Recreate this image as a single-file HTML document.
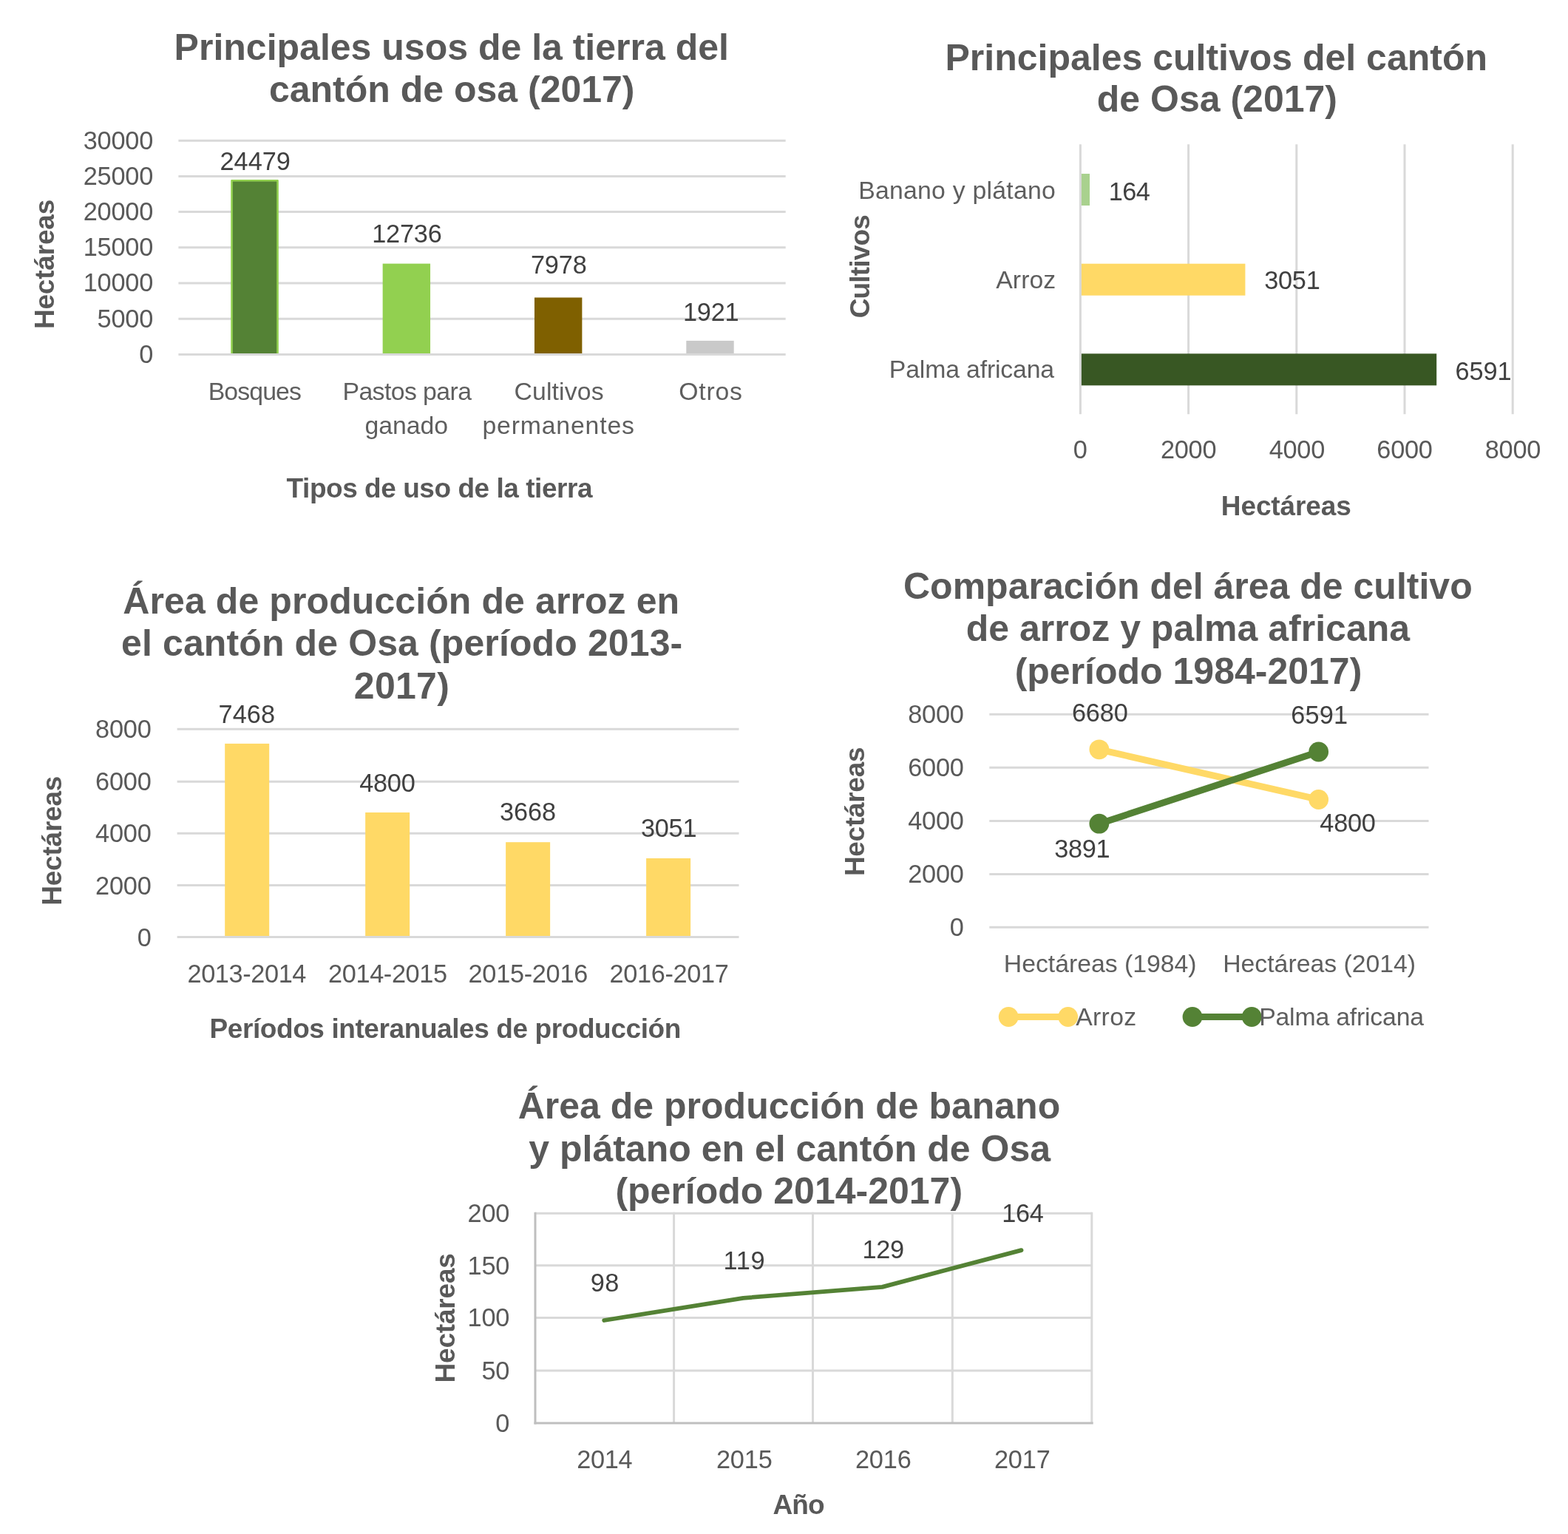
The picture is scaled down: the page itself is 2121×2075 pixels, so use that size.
<!DOCTYPE html>
<html lang="es">
<head>
<meta charset="utf-8">
<title>Usos de la tierra y cultivos del cantón de Osa</title>
<style>
html,body{margin:0;padding:0;background:#fff;}
body{width:2121px;height:2075px;overflow:hidden;}
svg{display:block;}
text{font-family:"Liberation Sans",sans-serif;fill:#595959;white-space:pre;}
.d{font-size:34.3px;}
.l{font-size:33.8px;fill:#5e5e5e;}
.a{font-size:37.0px;font-weight:bold;}
.t{font-size:50.0px;font-weight:bold;}
.k{fill:#404040;}
</style>
</head>
<body>
<svg width="2121" height="2075" viewBox="0 0 2121 2075" role="img" aria-label="Gráficos de usos de la tierra y cultivos del cantón de Osa">
<rect width="2121" height="2075" fill="#ffffff"/>
<g>
<text class="t" x="700.75" y="1513.40">Área de producción de banano</text>
<text class="t" x="715.27" y="1570.60">y plátano en el cantón de Osa</text>
<text class="t" x="832.42" y="1628.00">(período 2014-2017)</text>
</g>
<g>
<line x1="241.40" y1="190.20" x2="1062.70" y2="190.20" stroke="#D9D9D9" stroke-width="3" stroke-linecap="butt"/>
<line x1="241.40" y1="238.40" x2="1062.70" y2="238.40" stroke="#D9D9D9" stroke-width="3" stroke-linecap="butt"/>
<line x1="241.40" y1="286.60" x2="1062.70" y2="286.60" stroke="#D9D9D9" stroke-width="3" stroke-linecap="butt"/>
<line x1="241.40" y1="334.80" x2="1062.70" y2="334.80" stroke="#D9D9D9" stroke-width="3" stroke-linecap="butt"/>
<line x1="241.40" y1="383.00" x2="1062.70" y2="383.00" stroke="#D9D9D9" stroke-width="3" stroke-linecap="butt"/>
<line x1="241.40" y1="431.20" x2="1062.70" y2="431.20" stroke="#D9D9D9" stroke-width="3" stroke-linecap="butt"/>
<rect x="313.51" y="244.32" width="62.00" height="235.08" fill="#548235"/>
<path d="M313.51 479.40V244.32H375.51V479.40" fill="none" stroke="#92D050" stroke-width="2.6" stroke-linejoin="round"/>
<rect x="517.64" y="356.62" width="64.40" height="122.78" fill="#92D050"/>
<rect x="722.96" y="402.49" width="64.40" height="76.91" fill="#7F6000"/>
<rect x="928.29" y="460.88" width="64.40" height="18.52" fill="#C9C9C9"/>
<line x1="241.40" y1="479.40" x2="1062.70" y2="479.40" stroke="#D9D9D9" stroke-width="3" stroke-linecap="butt"/>
<line x1="1607.60" y1="195.30" x2="1607.60" y2="560.30" stroke="#D9D9D9" stroke-width="3" stroke-linecap="butt"/>
<line x1="1753.80" y1="195.30" x2="1753.80" y2="560.30" stroke="#D9D9D9" stroke-width="3" stroke-linecap="butt"/>
<line x1="1900.00" y1="195.30" x2="1900.00" y2="560.30" stroke="#D9D9D9" stroke-width="3" stroke-linecap="butt"/>
<line x1="2046.20" y1="195.30" x2="2046.20" y2="560.30" stroke="#D9D9D9" stroke-width="3" stroke-linecap="butt"/>
<rect x="1461.40" y="235.03" width="12.59" height="43.00" fill="#A9D18E"/>
<rect x="1461.40" y="356.70" width="223.03" height="43.00" fill="#FFD966"/>
<rect x="1461.40" y="478.37" width="481.80" height="43.00" fill="#385723"/>
<line x1="1461.40" y1="195.30" x2="1461.40" y2="560.30" stroke="#D9D9D9" stroke-width="3" stroke-linecap="butt"/>
<line x1="239.60" y1="986.20" x2="999.50" y2="986.20" stroke="#D9D9D9" stroke-width="3" stroke-linecap="butt"/>
<line x1="239.60" y1="1057.20" x2="999.50" y2="1057.20" stroke="#D9D9D9" stroke-width="3" stroke-linecap="butt"/>
<line x1="239.60" y1="1127.30" x2="999.50" y2="1127.30" stroke="#D9D9D9" stroke-width="3" stroke-linecap="butt"/>
<line x1="239.60" y1="1197.40" x2="999.50" y2="1197.40" stroke="#D9D9D9" stroke-width="3" stroke-linecap="butt"/>
<rect x="304.19" y="1005.90" width="60.00" height="261.50" fill="#FFD966"/>
<rect x="494.16" y="1099.00" width="60.00" height="168.40" fill="#FFD966"/>
<rect x="684.14" y="1139.20" width="60.00" height="128.20" fill="#FFD966"/>
<rect x="874.11" y="1161.00" width="60.00" height="106.40" fill="#FFD966"/>
<line x1="239.60" y1="1267.40" x2="999.50" y2="1267.40" stroke="#D9D9D9" stroke-width="3" stroke-linecap="butt"/>
<line x1="1338.30" y1="966.30" x2="1932.50" y2="966.30" stroke="#D9D9D9" stroke-width="3" stroke-linecap="butt"/>
<line x1="1338.30" y1="1038.20" x2="1932.50" y2="1038.20" stroke="#D9D9D9" stroke-width="3" stroke-linecap="butt"/>
<line x1="1338.30" y1="1110.60" x2="1932.50" y2="1110.60" stroke="#D9D9D9" stroke-width="3" stroke-linecap="butt"/>
<line x1="1338.30" y1="1182.50" x2="1932.50" y2="1182.50" stroke="#D9D9D9" stroke-width="3" stroke-linecap="butt"/>
<line x1="1338.30" y1="1254.30" x2="1932.50" y2="1254.30" stroke="#D9D9D9" stroke-width="3" stroke-linecap="butt"/>
<line x1="1486.85" y1="1013.82" x2="1783.65" y2="1081.50" stroke="#FFD966" stroke-width="9" stroke-linecap="round"/>
<circle cx="1486.85" cy="1013.82" r="13.40" fill="#FFD966"/>
<circle cx="1783.65" cy="1081.50" r="13.40" fill="#FFD966"/>
<line x1="1486.85" y1="1114.22" x2="1783.65" y2="1017.02" stroke="#548235" stroke-width="9" stroke-linecap="round"/>
<circle cx="1486.85" cy="1114.22" r="13.40" fill="#548235"/>
<circle cx="1783.65" cy="1017.02" r="13.40" fill="#548235"/>
<line x1="1364.20" y1="1375.50" x2="1444.70" y2="1375.50" stroke="#FFD966" stroke-width="9" stroke-linecap="butt"/>
<circle cx="1364.20" cy="1375.50" r="13.40" fill="#FFD966"/>
<circle cx="1444.70" cy="1375.50" r="13.40" fill="#FFD966"/>
<line x1="1613.00" y1="1375.50" x2="1693.20" y2="1375.50" stroke="#548235" stroke-width="9" stroke-linecap="butt"/>
<circle cx="1613.00" cy="1375.50" r="13.40" fill="#548235"/>
<circle cx="1693.20" cy="1375.50" r="13.40" fill="#548235"/>
<line x1="724.00" y1="1641.20" x2="1477.20" y2="1641.20" stroke="#D9D9D9" stroke-width="3" stroke-linecap="butt"/>
<line x1="724.00" y1="1711.80" x2="1477.20" y2="1711.80" stroke="#D9D9D9" stroke-width="3" stroke-linecap="butt"/>
<line x1="724.00" y1="1782.50" x2="1477.20" y2="1782.50" stroke="#D9D9D9" stroke-width="3" stroke-linecap="butt"/>
<line x1="724.00" y1="1854.10" x2="1477.20" y2="1854.10" stroke="#D9D9D9" stroke-width="3" stroke-linecap="butt"/>
<line x1="911.60" y1="1639.70" x2="911.60" y2="1925.10" stroke="#D9D9D9" stroke-width="3" stroke-linecap="butt"/>
<line x1="1099.50" y1="1639.70" x2="1099.50" y2="1925.10" stroke="#D9D9D9" stroke-width="3" stroke-linecap="butt"/>
<line x1="1288.30" y1="1639.70" x2="1288.30" y2="1925.10" stroke="#D9D9D9" stroke-width="3" stroke-linecap="butt"/>
<line x1="1476.80" y1="1639.70" x2="1476.80" y2="1925.10" stroke="#D9D9D9" stroke-width="3" stroke-linecap="butt"/>
<polyline fill="none" stroke="#548235" stroke-width="5.8" stroke-linecap="round" stroke-linejoin="round" points="817.20,1786.00 1005.30,1755.80 1193.40,1740.90 1381.50,1691.10"/>
<line x1="724.00" y1="1639.70" x2="724.00" y2="1926.60" stroke="#BFBFBF" stroke-width="3" stroke-linecap="butt"/>
<line x1="722.50" y1="1925.10" x2="1478.70" y2="1925.10" stroke="#BFBFBF" stroke-width="3" stroke-linecap="butt"/>
</g>
<g>
<text class="d" x="112.73" y="201.60" letter-spacing="-0.214">30000</text>
<text class="d" x="112.73" y="249.80" letter-spacing="-0.214">25000</text>
<text class="d" x="112.73" y="298.00" letter-spacing="-0.214">20000</text>
<text class="d" x="112.73" y="346.20" letter-spacing="-0.214">15000</text>
<text class="d" x="112.73" y="394.40" letter-spacing="-0.214">10000</text>
<text class="d" x="131.59" y="442.60" letter-spacing="-0.214">5000</text>
<text class="d" x="188.18" y="490.80">0</text>
<text class="d k" x="297.59" y="229.50" letter-spacing="-0.046">24479</text>
<text class="d k" x="503.16" y="328.20" letter-spacing="-0.187">12736</text>
<text class="d k" x="717.89" y="369.80" letter-spacing="-0.102">7978</text>
<text class="d k" x="923.96" y="433.70" letter-spacing="-0.223">1921</text>
<text class="l" x="281.66" y="540.65" letter-spacing="-0.873">Bosques</text>
<text class="l" x="463.46" y="540.65" letter-spacing="-0.585">Pastos para</text>
<text class="l" x="493.54" y="587.05" letter-spacing="-0.032">ganado</text>
<text class="l" x="695.42" y="540.65" letter-spacing="0.147">Cultivos</text>
<text class="l" x="652.49" y="587.05" letter-spacing="0.818">permanentes</text>
<text class="l" x="918.32" y="540.65" letter-spacing="0.726">Otros</text>
<text class="a" x="387.60" y="673.00" letter-spacing="-0.461">Tipos de uso de la tierra</text>
<text class="a" transform="translate(72.90 445.11) rotate(-90)" letter-spacing="-0.187">Hectáreas</text>
<text class="t" x="235.61" y="80.70">Principales usos de la tierra del</text>
<text class="t" x="363.92" y="137.70">cantón de osa (2017)</text>
<text class="l" x="1161.16" y="268.65" letter-spacing="0.234">Banano y plátano</text>
<text class="l" x="1347.30" y="389.65" letter-spacing="0.033">Arroz</text>
<text class="l" x="1202.76" y="510.75" letter-spacing="-0.155">Palma africana</text>
<text class="d k" x="1499.86" y="270.50" letter-spacing="-0.615">164</text>
<text class="d k" x="1710.13" y="391.30" letter-spacing="-0.214">3051</text>
<text class="d k" x="1968.49" y="513.70" letter-spacing="-0.069">6591</text>
<text class="d" x="1451.75" y="620.20">0</text>
<text class="d" x="1569.89" y="620.20" letter-spacing="-0.214">2000</text>
<text class="d" x="1716.63" y="620.20" letter-spacing="-0.214">4000</text>
<text class="d" x="1862.29" y="620.20" letter-spacing="-0.214">6000</text>
<text class="d" x="2008.76" y="620.20" letter-spacing="-0.214">8000</text>
<text class="a" x="1651.79" y="696.70" letter-spacing="-0.099">Hectáreas</text>
<text class="a" transform="translate(1176.20 430.36) rotate(-90)" letter-spacing="-0.815">Cultivos</text>
<text class="t" x="1278.47" y="94.60">Principales cultivos del cantón</text>
<text class="t" x="1483.84" y="151.20">de Osa (2017)</text>
<text class="d" x="129.09" y="998.30" letter-spacing="-0.214">8000</text>
<text class="d" x="129.09" y="1069.30" letter-spacing="-0.214">6000</text>
<text class="d" x="129.09" y="1139.40" letter-spacing="-0.214">4000</text>
<text class="d" x="129.09" y="1209.50" letter-spacing="-0.214">2000</text>
<text class="d" x="185.68" y="1279.50">0</text>
<text class="d k" x="295.59" y="978.30" letter-spacing="0.065">7468</text>
<text class="d k" x="486.26" y="1070.50" letter-spacing="-0.271">4800</text>
<text class="d k" x="675.93" y="1109.60" letter-spacing="-0.081">3668</text>
<text class="d k" x="867.03" y="1132.10" letter-spacing="-0.281">3051</text>
<text class="d" x="253.49" y="1328.60" letter-spacing="-0.384">2013-2014</text>
<text class="d" x="444.09" y="1328.60" letter-spacing="-0.379">2014-2015</text>
<text class="d" x="633.59" y="1328.60" letter-spacing="-0.292">2015-2016</text>
<text class="d" x="824.49" y="1328.60" letter-spacing="-0.329">2016-2017</text>
<text class="a" x="283.49" y="1404.30" letter-spacing="-0.410">Períodos interanuales de producción</text>
<text class="a" transform="translate(83.30 1224.71) rotate(-90)" letter-spacing="-0.237">Hectáreas</text>
<text class="t" x="166.32" y="829.80" letter-spacing="0.091">Área de producción de arroz en</text>
<text class="t" x="164.04" y="886.60" letter-spacing="0.114">el cantón de Osa (período 2013-</text>
<text class="t" x="478.84" y="944.60" letter-spacing="0.272">2017)</text>
<text class="d" x="1228.19" y="977.90" letter-spacing="-0.214">8000</text>
<text class="d" x="1228.19" y="1049.80" letter-spacing="-0.214">6000</text>
<text class="d" x="1228.19" y="1122.20" letter-spacing="-0.214">4000</text>
<text class="d" x="1228.19" y="1194.10" letter-spacing="-0.214">2000</text>
<text class="d" x="1284.78" y="1265.90">0</text>
<text class="d k" x="1449.89" y="975.50" letter-spacing="-0.081">6680</text>
<text class="d k" x="1426.33" y="1159.90" letter-spacing="-0.381">3891</text>
<text class="d k" x="1746.29" y="978.70" letter-spacing="0.131">6591</text>
<text class="d k" x="1785.36" y="1124.50" letter-spacing="-0.305">4800</text>
<text class="l" x="1357.86" y="1314.75" letter-spacing="-0.037">Hectáreas (1984)</text>
<text class="l" x="1654.16" y="1314.75" letter-spacing="-0.010">Hectáreas (2014)</text>
<text class="l" x="1455.20" y="1387.25" letter-spacing="0.308">Arroz</text>
<text class="l" x="1703.16" y="1387.25" letter-spacing="-0.194">Palma africana</text>
<text class="a" transform="translate(1169.00 1185.11) rotate(-90)" letter-spacing="-0.287">Hectáreas</text>
<text class="t" x="1222.00" y="810.00">Comparación del área de cultivo</text>
<text class="t" x="1306.78" y="867.40">de arroz y palma africana</text>
<text class="t" x="1372.67" y="925.00">(período 1984-2017)</text>
<text class="d" x="632.55" y="1652.90" letter-spacing="-0.214">200</text>
<text class="d" x="632.55" y="1723.50" letter-spacing="-0.214">150</text>
<text class="d" x="632.55" y="1794.20" letter-spacing="-0.214">100</text>
<text class="d" x="651.42" y="1865.80" letter-spacing="-0.214">50</text>
<text class="d" x="670.28" y="1936.80">0</text>
<text class="d k" x="798.69" y="1747.30" letter-spacing="0.546">98</text>
<text class="d k" x="978.56" y="1717.40" letter-spacing="0.726">119</text>
<text class="d k" x="1166.46" y="1702.00" letter-spacing="-0.347">129</text>
<text class="d k" x="1355.16" y="1653.30" letter-spacing="-0.315">164</text>
<text class="d" x="780.19" y="1985.60" letter-spacing="-0.281">2014</text>
<text class="d" x="968.89" y="1985.60" letter-spacing="-0.102">2015</text>
<text class="d" x="1156.89" y="1985.60" letter-spacing="-0.135">2016</text>
<text class="d" x="1344.89" y="1985.60" letter-spacing="-0.102">2017</text>
<text class="a" x="1045.42" y="2047.50" letter-spacing="-0.867">Año</text>
<text class="a" transform="translate(615.10 1870.41) rotate(-90)" letter-spacing="-0.199">Hectáreas</text>
</g>
</svg>
</body>
</html>
